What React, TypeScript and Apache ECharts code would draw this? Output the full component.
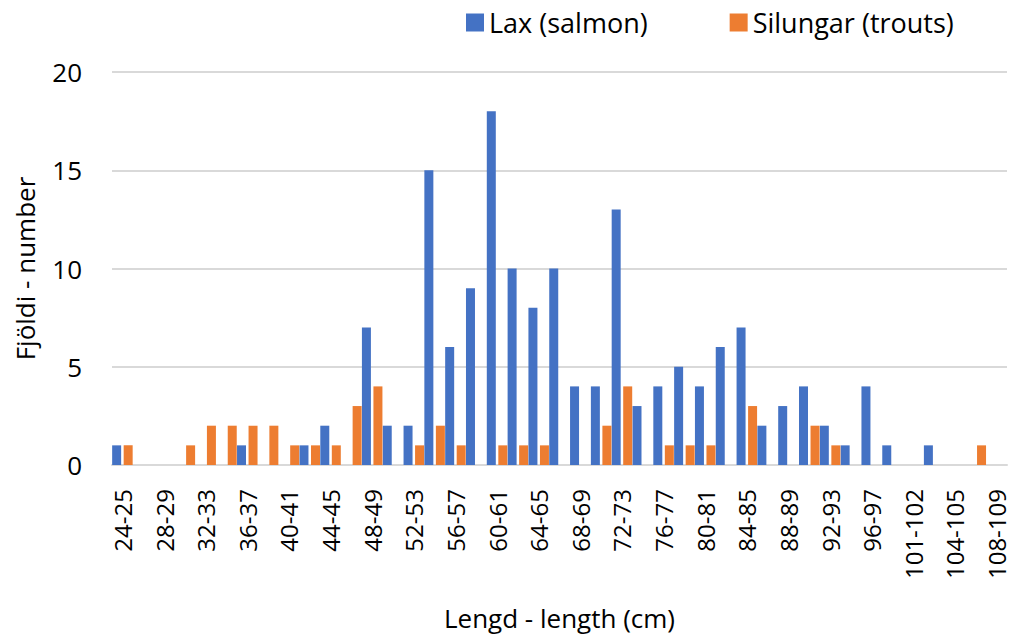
import React, { useEffect, useRef } from "react";
import * as echarts from "echarts";

const categories = [
  "24-25", "26-27", "28-29", "30-31", "32-33", "34-35", "36-37", "38-39",
  "40-41", "42-43", "44-45", "46-47", "48-49", "50-51", "52-53", "54-55",
  "56-57", "58-59", "60-61", "62-63", "64-65", "66-67", "68-69", "70-71",
  "72-73", "74-75", "76-77", "78-79", "80-81", "82-83", "84-85", "86-87",
  "88-89", "90-91", "92-93", "94-95", "96-97", "98-100", "101-102", "103",
  "104-105", "106-107", "108-109",
];

const salmon = [
  1, 0, 0, 0, 0, 0, 1, 0,
  0, 1, 2, 0, 7, 2, 2, 15,
  6, 9, 18, 10, 8, 10, 4, 4,
  13, 3, 4, 5, 4, 6, 7, 2,
  3, 4, 2, 1, 4, 1, 0, 1,
  0, 0, 0,
];

const trouts = [
  1, 0, 0, 1, 2, 2, 2, 2,
  1, 1, 1, 3, 4, 0, 1, 2,
  1, 0, 1, 1, 1, 0, 0, 2,
  4, 0, 1, 1, 1, 0, 3, 0,
  0, 2, 1, 0, 0, 0, 0, 0,
  0, 1, 0,
];

const seriesNames = ["Lax (salmon)", "Silungar (trouts)"];
const yTicks = { min: 0, max: 20, interval: 5 };

export default function App() {
  const ref = useRef<HTMLDivElement>(null);

  useEffect(() => {
    if (!ref.current) return;
    const chart = echarts.init(ref.current, undefined, { renderer: "svg" });
    const font = "'Open Sans', 'Noto Sans', sans-serif";
    const textColor = "#000";
    chart.setOption({
      animation: false,
      textStyle: { fontFamily: font, color: textColor },
      legend: {
        data: seriesNames,
        left: 461,
        top: 4,
        icon: "rect",
        itemWidth: 18,
        itemHeight: 18,
        itemGap: 82,
        textStyle: { fontFamily: font, fontSize: 27, color: textColor },
      },
      grid: { left: 112, right: 7, top: 72, bottom: 172, containLabel: false },
      xAxis: {
        type: "category",
        data: categories,
        name: "Lengd - length (cm)",
        nameLocation: "middle",
        nameGap: 140,
        nameTextStyle: { fontFamily: font, fontSize: 26, color: textColor },
        axisLine: { show: true, lineStyle: { color: "#d9d9d9", width: 2 } },
        axisTick: { show: false },
        axisLabel: {
          interval: 1,
          rotate: 90,
          margin: 24,
          fontFamily: font,
          fontSize: 24,
          lineHeight: 24,
          color: textColor,
        },
      },
      yAxis: {
        type: "value",
        min: yTicks.min,
        max: yTicks.max,
        interval: yTicks.interval,
        name: "Fjöldi - number",
        nameLocation: "middle",
        nameGap: 74,
        nameTextStyle: { fontFamily: font, fontSize: 26, color: textColor },
        axisLine: { show: false },
        axisTick: { show: false },
        axisLabel: { margin: 30, fontFamily: font, fontSize: 26, color: textColor },
        splitLine: { lineStyle: { color: "#d9d9d9", width: 2 } },
      },
      series: [
        {
          name: seriesNames[0],
          type: "bar",
          data: salmon,
          barWidth: 9,
          barGap: "28%",
          itemStyle: { color: "#4472C4" },
        },
        {
          name: seriesNames[1],
          type: "bar",
          data: trouts,
          barWidth: 9,
          barGap: "28%",
          itemStyle: { color: "#ED7D31" },
        },
      ],
    });
    return () => chart.dispose();
  }, []);

  return (
    <div
      ref={ref}
      style={{ position: "fixed", left: 0, top: 0, width: 1014, height: 637, background: "#fff" }}
    />
  );
}
